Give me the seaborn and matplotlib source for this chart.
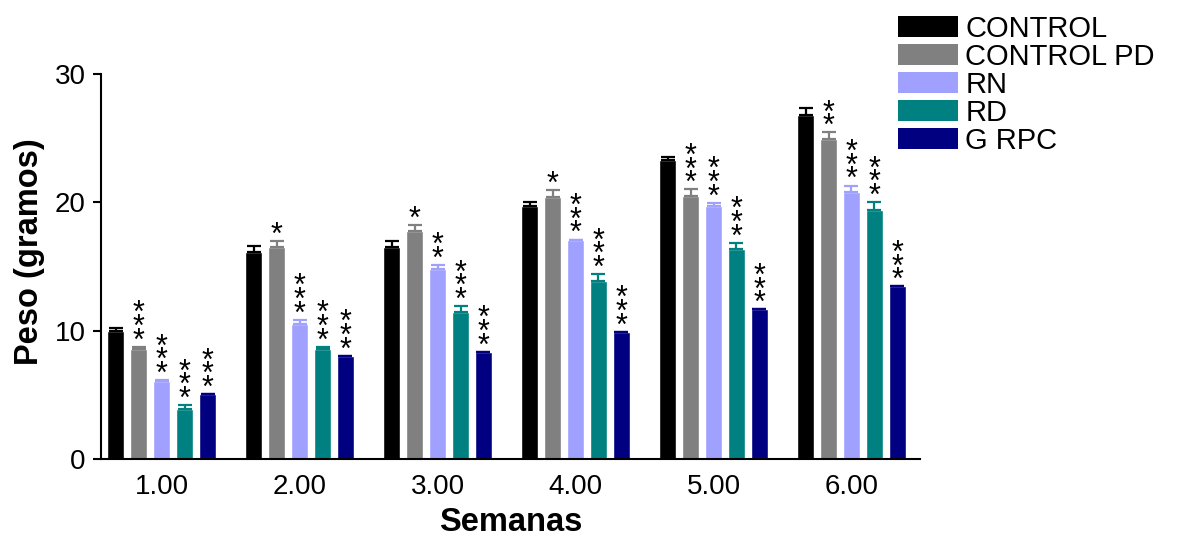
import pandas as pd
import matplotlib
matplotlib.use("Agg")
import matplotlib.pyplot as plt
import seaborn as sns
from matplotlib.patches import Patch

# data
weeks = ["1.00", "2.00", "3.00", "4.00", "5.00", "6.00"]
groups = ["CONTROL", "CONTROL PD", "RN", "RD", "G RPC"]

control = [10.0, 16.15, 16.55, 19.75, 23.3, 26.8]
control_pd = [8.55, 16.55, 17.8, 20.45, 20.5, 24.9]
rn = [6.05, 10.5, 14.8, 17.05, 19.75, 20.8]
rd = [3.9, 8.55, 11.45, 13.9, 16.4, 19.4]
grpc = [5.05, 8.05, 8.35, 9.9, 11.65, 13.45]

control_err = [0.2, 0.45, 0.4, 0.3, 0.25, 0.55]
control_pd_err = [0.2, 0.4, 0.45, 0.5, 0.5, 0.55]
rn_err = [0.1, 0.35, 0.3, 0.05, 0.2, 0.5]
rd_err = [0.3, 0.2, 0.45, 0.5, 0.45, 0.6]
grpc_err = [0.0, 0.0, 0.0, 0.0, 0.0, 0.0]

# number of asterisks above each bar
control_stars = [0, 0, 0, 0, 0, 0]
control_pd_stars = [3, 1, 1, 1, 3, 2]
rn_stars = [3, 3, 2, 3, 3, 3]
rd_stars = [3, 3, 3, 3, 3, 3]
grpc_stars = [3, 3, 3, 3, 3, 3]

colors = ["#000000", "#808080", "#A0A0FF", "#008080", "#000080"]

values = [control, control_pd, rn, rd, grpc]
errs = [control_err, control_pd_err, rn_err, rd_err, grpc_err]
stars = [control_stars, control_pd_stars, rn_stars, rd_stars, grpc_stars]

rows = []
for g, vals in zip(groups, values):
    for w, v in zip(weeks, vals):
        rows.append({"Semanas": w, "Peso": v, "Grupo": g})
df = pd.DataFrame(rows)

sns.set_style("ticks")
plt.rcParams["font.family"] = ["Liberation Sans", "DejaVu Sans"]
for key in ["text.color", "axes.labelcolor", "xtick.color", "ytick.color", "axes.edgecolor"]:
    plt.rcParams[key] = "black"

fig = plt.figure(figsize=(11.79, 5.38), dpi=100)
ax = fig.add_axes([0.0857, 0.1468, 0.695, 0.7157])

sns.barplot(data=df, x="Semanas", y="Peso", hue="Grupo", hue_order=groups,
            palette=colors, errorbar=None, width=0.83, gap=0.26,
            saturation=1, legend=False, ax=ax)

bar_conts = list(ax.containers)
for i, cont in enumerate(bar_conts):
    xs = [b.get_x() + b.get_width() / 2 for b in cont]
    tops = [b.get_height() for b in cont]
    ax.errorbar(xs, tops, yerr=[[0] * len(xs), errs[i]], fmt="none",
                ecolor=colors[i], elinewidth=1.6, capsize=5, capthick=1.6)
    for x, t, e, n in zip(xs, tops, errs[i], stars[i]):
        if n == 0:
            continue
        ax.annotate("\n".join(["*"] * n), xy=(x, t + e), xytext=(0, -7),
                    textcoords="offset points", ha="center", va="bottom",
                    fontsize=22, linespacing=0.29, clip_on=False)

ax.set_ylim(0, 30)
ax.set_xlim(-0.44, 5.5)
ax.set_yticks([0, 10, 20, 30])
ax.tick_params(axis="y", length=6, width=1.5, labelsize=20, pad=5)
ax.tick_params(axis="x", length=0, labelsize=20, pad=11)
for s in ["left", "bottom"]:
    ax.spines[s].set_linewidth(1.5)
sns.despine(ax=ax)

ax.set_xlabel("Semanas", fontsize=23.5, fontweight="bold", labelpad=5)
ax.set_ylabel("Peso (gramos)", fontsize=23.5, fontweight="bold")
ax.yaxis.set_label_coords(-0.068, 0.538)

handles = [Patch(facecolor=c, edgecolor="none") for c in colors]
fig.legend(handles, groups, loc="upper left", bbox_to_anchor=(0.762, 0.972),
           frameon=False, fontsize=21, handlelength=2.05, handleheight=0.72,
           handletextpad=0.25, labelspacing=0.0, borderpad=0, borderaxespad=0)

fig.savefig("out.png", dpi=100)
